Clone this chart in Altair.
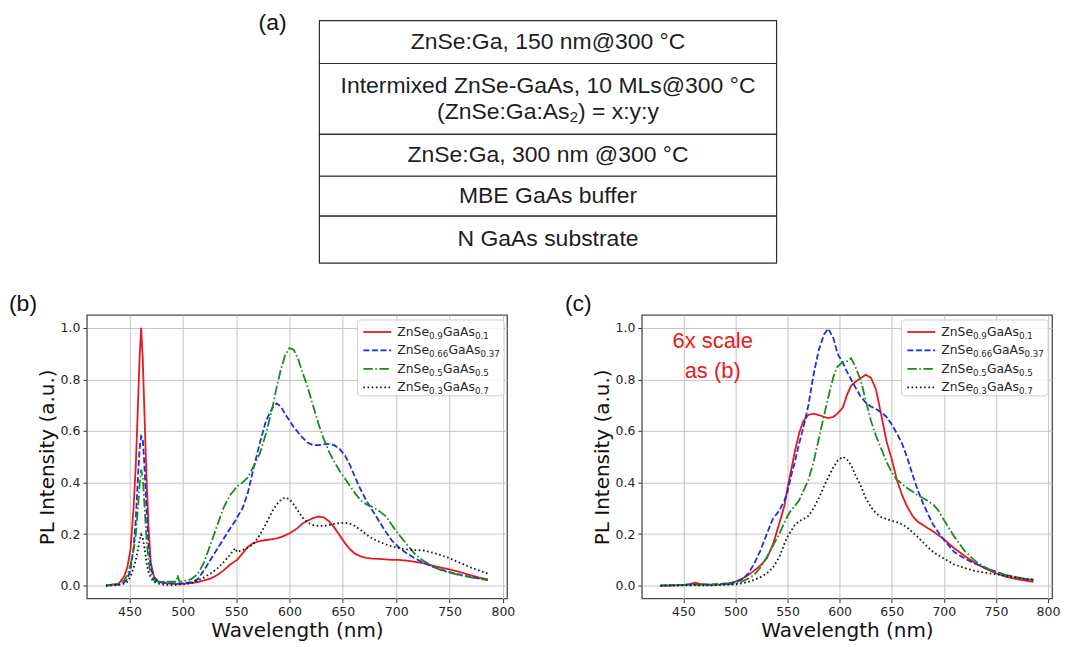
import altair as alt
import pandas as pd

# ---------------------------------------------------------------- data
# (b) PL spectra, normalised to the strongest ZnSe band-edge peak
wavelength_b = [428, 440, 445, 448, 451, 454, 456, 458, 459.5, 461, 462.5, 464, 466, 468, 470,
                473, 477, 482, 488, 494, 495, 497, 502, 508, 514, 520, 526, 532, 538, 544,
                549, 551, 556, 561, 566, 572, 578, 584, 588, 592, 596, 600, 604, 608, 612,
                617, 622, 627, 632, 637, 642, 647, 652, 657, 662, 667, 672, 678, 684, 690,
                696, 702, 710, 718, 726, 734, 742, 750, 760, 770, 778, 786]
red_b = [0, 0.008, 0.035, 0.07, 0.14, 0.31, 0.47, 0.70, 0.88, 1.0, 0.88, 0.68, 0.42, 0.22, 0.09,
         0.035, 0.015, 0.01, 0.008, 0.007, 0.007, 0.007, 0.008, 0.01, 0.014, 0.02, 0.027, 0.04, 0.058, 0.08,
         0.095, 0.1, 0.125, 0.15, 0.165, 0.173, 0.177, 0.18, 0.183, 0.188, 0.195, 0.203, 0.213, 0.225, 0.24,
         0.252, 0.262, 0.268, 0.265, 0.25, 0.225, 0.195, 0.165, 0.14, 0.122, 0.113, 0.108, 0.105, 0.104, 0.102,
         0.1, 0.1, 0.097, 0.092, 0.086, 0.078, 0.07, 0.063, 0.052, 0.04, 0.031, 0.024]
blue_b = [0, 0.004, 0.012, 0.025, 0.06, 0.15, 0.26, 0.42, 0.53, 0.58, 0.57, 0.47, 0.3, 0.15, 0.07,
          0.03, 0.018, 0.012, 0.01, 0.008, 0.008, 0.008, 0.01, 0.013, 0.025, 0.06, 0.1, 0.14, 0.18, 0.22,
          0.25, 0.265, 0.3, 0.36, 0.45, 0.55, 0.64, 0.69, 0.707, 0.695, 0.665, 0.64, 0.615, 0.595, 0.575,
          0.555, 0.545, 0.545, 0.548, 0.55, 0.545, 0.53, 0.505, 0.465, 0.415, 0.37, 0.33, 0.29, 0.25, 0.21,
          0.175, 0.15, 0.125, 0.105, 0.088, 0.074, 0.062, 0.052, 0.042, 0.033, 0.027, 0.021]
green_b = [0, 0.008, 0.02, 0.04, 0.08, 0.14, 0.2, 0.3, 0.39, 0.45, 0.42, 0.32, 0.18, 0.09, 0.045,
           0.02, 0.015, 0.015, 0.015, 0.015, 0.04, 0.015, 0.018, 0.025, 0.045, 0.09, 0.16, 0.23, 0.3, 0.35,
           0.375, 0.385, 0.4, 0.42, 0.46, 0.51, 0.59, 0.69, 0.77, 0.84, 0.895, 0.922, 0.915, 0.88, 0.83,
           0.77, 0.7, 0.63, 0.57, 0.52, 0.48, 0.445, 0.415, 0.385, 0.355, 0.33, 0.315, 0.305, 0.29, 0.27,
           0.235, 0.2, 0.16, 0.12, 0.095, 0.075, 0.06, 0.05, 0.04, 0.032, 0.027, 0.023]
black_b = [0, 0.003, 0.008, 0.015, 0.035, 0.07, 0.1, 0.14, 0.175, 0.198, 0.185, 0.15, 0.09, 0.05, 0.03,
           0.015, 0.008, 0.004, 0.002, 0.003, 0.003, 0.004, 0.006, 0.01, 0.02, 0.032, 0.047, 0.065, 0.09, 0.118,
           0.145, 0.13, 0.138, 0.148, 0.16, 0.195, 0.24, 0.29, 0.315, 0.333, 0.342, 0.335, 0.315, 0.29, 0.265,
           0.245, 0.235, 0.232, 0.232, 0.235, 0.24, 0.243, 0.244, 0.24, 0.23, 0.215, 0.198, 0.182, 0.17, 0.16,
           0.152, 0.146, 0.141, 0.138, 0.136, 0.128, 0.118, 0.106, 0.088, 0.07, 0.058, 0.047]

# (c) the same samples on a 6x magnified scale
wavelength_c = [428, 440, 450, 456, 461, 466, 475, 485, 495, 500, 506, 512, 518, 524, 530,
                536, 542, 547, 550, 553, 557, 561, 565, 570, 575, 580, 585, 589, 594, 598,
                603, 607, 611, 615, 620, 625, 630, 635, 640, 645, 650, 655, 660, 665, 670,
                675, 680, 685, 690, 695, 700, 710, 720, 730, 740, 750, 760, 770, 778, 786]
red_c = [0, 0.001, 0.003, 0.006, 0.011, 0.007, 0.004, 0.005, 0.01, 0.016, 0.026, 0.04, 0.058, 0.078, 0.105,
         0.16, 0.24, 0.31, 0.38, 0.44, 0.52, 0.59, 0.637, 0.663, 0.667, 0.662, 0.655, 0.65, 0.655, 0.668,
         0.69, 0.74, 0.775, 0.79, 0.805, 0.818, 0.807, 0.76, 0.66, 0.56, 0.49, 0.41, 0.35, 0.305, 0.27,
         0.248, 0.235, 0.222, 0.21, 0.195, 0.18, 0.145, 0.115, 0.088, 0.066, 0.048, 0.034, 0.025, 0.019, 0.015]
blue_c = [0, 0.002, 0.003, 0.004, 0.005, 0.004, 0.004, 0.006, 0.01, 0.014, 0.023, 0.045, 0.085, 0.137, 0.2,
          0.26, 0.29, 0.33, 0.365, 0.42, 0.48, 0.55, 0.61, 0.70, 0.82, 0.915, 0.975, 0.997, 0.96, 0.9,
          0.865, 0.83, 0.8, 0.77, 0.735, 0.71, 0.695, 0.685, 0.672, 0.655, 0.625, 0.59, 0.55, 0.495, 0.43,
          0.37, 0.32, 0.275, 0.235, 0.205, 0.178, 0.13, 0.105, 0.085, 0.068, 0.054, 0.041, 0.032, 0.026, 0.021]
green_c = [0, 0.001, 0.002, 0.003, 0.004, 0.003, 0.003, 0.004, 0.006, 0.008, 0.015, 0.027, 0.042, 0.07, 0.11,
           0.155, 0.2, 0.245, 0.27, 0.29, 0.31, 0.33, 0.365, 0.41, 0.48, 0.57, 0.66, 0.73, 0.81, 0.85,
           0.868, 0.87, 0.883, 0.85, 0.80, 0.72, 0.64, 0.58, 0.53, 0.48, 0.44, 0.41, 0.395, 0.378, 0.365,
           0.35, 0.34, 0.328, 0.314, 0.29, 0.255, 0.19, 0.135, 0.096, 0.07, 0.053, 0.04, 0.032, 0.027, 0.024]
black_c = [0, 0.0, 0.001, 0.001, 0.002, 0.001, 0.001, 0.002, 0.004, 0.005, 0.009, 0.014, 0.022, 0.033, 0.047,
           0.07, 0.11, 0.163, 0.19, 0.21, 0.235, 0.25, 0.258, 0.27, 0.3, 0.34, 0.385, 0.42, 0.46, 0.485,
           0.5, 0.49, 0.468, 0.43, 0.39, 0.34, 0.305, 0.28, 0.266, 0.258, 0.252, 0.246, 0.238, 0.225, 0.207,
           0.188, 0.168, 0.148, 0.13, 0.117, 0.105, 0.082, 0.068, 0.057, 0.05, 0.044, 0.037, 0.031, 0.026, 0.022]

# legend entries: (ZnSe, x, GaAs, 1-x) split so the fractions can be subscripted
legend_parts = [("ZnSe", "0.9", "GaAs", "0.1"),
                ("ZnSe", "0.66", "GaAs", "0.37"),
                ("ZnSe", "0.5", "GaAs", "0.5"),
                ("ZnSe", "0.3", "GaAs", "0.7")]

# layer stack of the sample, top to bottom
stack_rows = ["ZnSe:Ga, 150 nm@300 \u00b0C",
              "Intermixed ZnSe-GaAs, 10 MLs@300 \u00b0C",
              "ZnSe:Ga, 300 nm @300 \u00b0C",
              "MBE GaAs buffer",
              "N GaAs substrate"]
ratio_line = ("(ZnSe:Ga:As", "2", ") = x:y:y")

wavelength_ticks = [450, 500, 550, 600, 650, 700, 750, 800]
intensity_ticks = [0.0, 0.2, 0.4, 0.6, 0.8, 1.0]

# ---------------------------------------------------------------- style
line_colors = ["#e8191e", "#1a2ee6", "#1c8a1c", "#141414"]
line_dashes = [None, [6, 2.6], [9.5, 2.5, 1.6, 2.5], [1.6, 2.6]]
LINE_W = 1.8

SANS = "Liberation Sans"
MPL = "DejaVu Sans"

DEJAVU_W = {"Z": 0.685, "n": 0.634, "S": 0.635, "e": 0.615, "G": 0.775, "a": 0.613,
            "A": 0.684, "s": 0.521, ".": 0.318, **{d: 0.636 for d in "0123456789"}}
ARIAL_W = {"(": 0.333, ")": 0.333, "Z": 0.611, "n": 0.556, "S": 0.667, "e": 0.556, ":": 0.278,
           "G": 0.778, "a": 0.556, "A": 0.667, "s": 0.5, "2": 0.556, " ": 0.278, "=": 0.584,
           "x": 0.5, "y": 0.5}


def text_width(s, size, table):
    return sum(table[ch] for ch in s) * size


# page layout (pixels on the 1091 x 647 page)
PAGE_W, PAGE_H = 1091, 647
PLOT_TOP, PLOT_H = 314, 284
B_LEFT, B_W = 86, 421
C_LEFT, C_W = 642, 411
X_DOMAIN = [410.1, 803.9]
Y_DOMAIN = [-0.05, 1.05]

TABLE_L, TABLE_R = 319, 777
TABLE_LINES = [19, 62, 133, 175, 215, 262]
TABLE_FS = 23

LEGEND_TOP, LEGEND_BOTTOM = 319, 395
LEGEND_Y = [331, 349.5, 368, 386.5]
LEGEND_FS, LEGEND_SUB_FS = 12.4, 8.7

one_row = pd.DataFrame({"k": [0]})


def px(field):
    return alt.X(field, type="quantitative", scale=None, axis=None)


def py(field):
    return alt.Y(field, type="quantitative", scale=None, axis=None)


def spectra_layers(wl, series):
    x_axis = alt.Axis(values=wavelength_ticks, format="d", title="Wavelength (nm)")
    y_axis = alt.Axis(values=intensity_ticks, format=".1f", title="PL Intensity (a.u.)")
    layers = []
    for vals, color, dash in zip(series, line_colors, line_dashes):
        df = pd.DataFrame({"wavelength": wl, "pl": vals})
        opts = dict(color=color, strokeWidth=LINE_W, clip=True)
        if dash is not None:
            opts["strokeDash"] = dash
        layers.append(
            alt.Chart(df).mark_line(**opts).encode(
                x=alt.X("wavelength:Q", scale=alt.Scale(domain=X_DOMAIN, nice=False, zero=False), axis=x_axis),
                y=alt.Y("pl:Q", scale=alt.Scale(domain=Y_DOMAIN, nice=False, zero=False), axis=y_axis),
            )
        )
    return layers


def legend_layers(ox, oy, box_left, box_right):
    layers = [
        alt.Chart(one_row).mark_rect(fill="white", fillOpacity=0.85, stroke="#cfcfcf",
                                     strokeWidth=1, cornerRadius=3).encode(
            x=alt.value(box_left - ox), x2=alt.value(box_right - ox),
            y=alt.value(LEGEND_TOP - oy), y2=alt.value(LEGEND_BOTTOM - oy))
    ]
    main_rows, sub_rows = [], []
    for i, (parts, color, dash) in enumerate(zip(legend_parts, line_colors, line_dashes)):
        y = LEGEND_Y[i] - oy
        opts = dict(color=color, strokeWidth=LINE_W)
        if dash is not None:
            opts["strokeDash"] = dash
        layers.append(alt.Chart(one_row).mark_rule(**opts).encode(
            x=alt.value(box_left + 6 - ox), x2=alt.value(box_left + 34 - ox), y=alt.value(y)))
        x = box_left + 40 - ox
        a, b, c, d = parts
        main_rows.append({"t": a, "x": x, "y": y})
        x += text_width(a, LEGEND_FS, DEJAVU_W)
        sub_rows.append({"t": b, "x": x, "y": y + 4})
        x += text_width(b, LEGEND_SUB_FS, DEJAVU_W)
        main_rows.append({"t": c, "x": x, "y": y})
        x += text_width(c, LEGEND_FS, DEJAVU_W)
        sub_rows.append({"t": d, "x": x, "y": y + 4})
    layers.append(alt.Chart(pd.DataFrame(main_rows)).mark_text(
        align="left", baseline="middle", font=MPL, fontSize=LEGEND_FS, color="#262626").encode(
        x=px("x"), y=py("y"), text="t:N"))
    layers.append(alt.Chart(pd.DataFrame(sub_rows)).mark_text(
        align="left", baseline="middle", font=MPL, fontSize=LEGEND_SUB_FS, color="#262626").encode(
        x=px("x"), y=py("y"), text="t:N"))
    return layers


def label(text, x, y, ox, oy, size=23, color="#111111", align="left", font=SANS):
    return alt.Chart(one_row).mark_text(text=text, align=align, baseline="middle", font=font,
                                        fontSize=size, color=color).encode(
        x=alt.value(x - ox), y=alt.value(y - oy))


# ---------------------------------------------------------------- panel (b) + layer stack
ox, oy = B_LEFT, PLOT_TOP

cells = pd.DataFrame({
    "x0": [TABLE_L - ox] * 5, "x1": [TABLE_R - ox] * 5,
    "y0": [v - oy for v in TABLE_LINES[:-1]], "y1": [v - oy for v in TABLE_LINES[1:]],
})
table_box = alt.Chart(cells).mark_rect(fill="white", stroke="#2b2b2b", strokeWidth=1.2).encode(
    x=px("x0"), x2="x1:Q", y=py("y0"), y2="y1:Q")

mid_x = (TABLE_L + TABLE_R) / 2
row_text_y = [40.5, 85, 154, 195, 238]
table_text = alt.Chart(pd.DataFrame({
    "t": stack_rows, "x": [mid_x - ox] * 5, "y": [v - oy for v in row_text_y]})
).mark_text(align="center", baseline="middle", font=SANS, fontSize=TABLE_FS, color="#1e1e1e").encode(
    x=px("x"), y=py("y"), text="t:N")

# second line of the intermixed layer, with the As2 subscript
sub_fs = TABLE_FS * 0.65
w0 = text_width(ratio_line[0], TABLE_FS, ARIAL_W)
w1 = text_width(ratio_line[1], sub_fs, ARIAL_W)
w2 = text_width(ratio_line[2], TABLE_FS, ARIAL_W)
start = mid_x - (w0 + w1 + w2) / 2 - ox
ratio_y = 111 - oy
ratio_main = alt.Chart(pd.DataFrame({"t": [ratio_line[0], ratio_line[2]],
                                     "x": [start, start + w0 + w1], "y": [ratio_y, ratio_y]})
                       ).mark_text(align="left", baseline="middle", font=SANS, fontSize=TABLE_FS,
                                   color="#1e1e1e").encode(x=px("x"), y=py("y"), text="t:N")
ratio_sub = alt.Chart(one_row).mark_text(text=ratio_line[1], align="left", baseline="middle", font=SANS,
                                         fontSize=sub_fs, color="#1e1e1e").encode(
    x=alt.value(start + w0), y=alt.value(ratio_y + 6))

# invisible frame spanning the whole page so the layout keeps its full size
page = alt.Chart(one_row).mark_rule(opacity=0).encode(
    x=alt.value(-ox), x2=alt.value(PAGE_W - ox), y=alt.value(-oy), y2=alt.value(PAGE_H - oy))

panel_b = alt.layer(
    page,
    *spectra_layers(wavelength_b, [red_b, blue_b, green_b, black_b]),
    *legend_layers(ox, oy, 357, 504),
    label("(b)", 8, 303, ox, oy),
    label("(a)", 258, 21, ox, oy),
    table_box, table_text, ratio_main, ratio_sub,
).properties(width=B_W, height=PLOT_H)

# ---------------------------------------------------------------- panel (c)
ox, oy = C_LEFT, PLOT_TOP
panel_c = alt.layer(
    *spectra_layers(wavelength_c, [red_c, blue_c, green_c, black_c]),
    *legend_layers(ox, oy, 902, 1049),
    label("(c)", 565, 303, ox, oy),
    label("6x scale", 713, 340, ox, oy, size=22, color="#e8191e", align="center"),
    label("as (b)", 713, 370, ox, oy, size=22, color="#e8191e", align="center"),
).properties(width=C_W, height=PLOT_H)

chart = alt.hconcat(panel_b, panel_c, spacing=C_LEFT - B_LEFT - B_W, bounds="flush").properties(
    padding=0
).configure_view(
    stroke="#4a4a4a", strokeWidth=1.3
).configure_axis(
    labelFont=MPL, labelFontSize=12.5, labelColor="#262626", labelPadding=3,
    titleFont=MPL, titleFontSize=20, titleFontWeight="normal", titleColor="#111111", titlePadding=3,
    tickSize=4, tickColor="#333333", tickWidth=1, domain=False,
    grid=True, gridColor="#c4c4c4", gridWidth=1,
)

chart.save("out.html", embed_options={"renderer": "svg", "actions": False})
